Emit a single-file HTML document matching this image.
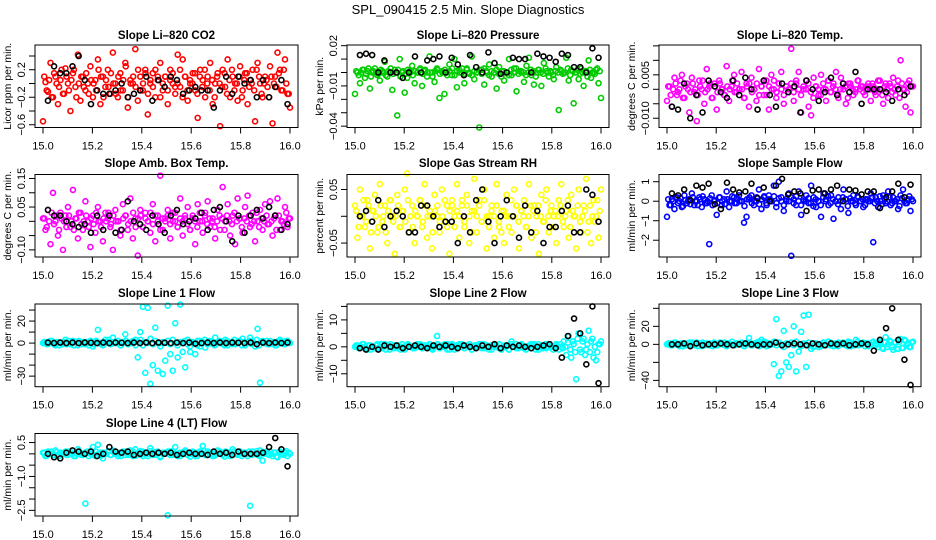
<!DOCTYPE html>
<html><head><meta charset="utf-8"><style>
html,body{margin:0;padding:0;background:#fff}
svg{display:block;font-family:"Liberation Sans",sans-serif}
</style></head><body>
<svg id="chart" width="936" height="540" viewBox="0 0 936 540">
<text x="468" y="14" text-anchor="middle" font-size="13">SPL_090415  2.5 Min. Slope Diagnostics</text>
</svg>
<script>
// ---- data ----
const co2Color = [-0.55,0.02,-0.12,0.30,-0.20,0.10,-0.30,0.05,-0.15,0.22, 0.00,-0.40,0.15,-0.05,0.42,-0.25,0.10,-0.10,0.00,0.25, -0.20,0.05,0.35,-0.30,0.10,-0.05,0.20,-0.15,0.45,0.00, -0.20,0.15,-0.10,0.30,-0.35,0.05,0.00,0.50,-0.25,0.10, -0.10,0.20,-0.45,0.00,0.15,-0.20,0.05,0.30,-0.10,0.10, -0.30,0.20,0.00,-0.15,0.42,-0.05,0.35,0.10,-0.25,0.00, 0.15,-0.10,-0.50,0.20,0.05,-0.20,0.10,0.30,-0.30,0.00, 0.15,-0.62,0.20,-0.05,0.35,-0.20,0.10,0.00,-0.25,0.25, -0.10,0.15,-0.30,0.05,0.20,-0.55,0.30,0.00,-0.20,0.10, -0.05,0.25,-0.58,0.10,0.45,0.20,-0.10,0.35,-0.15,-0.35];
const co2Band = [0.1,-0.1,0.05,-0.2,0.15,0.0,-0.05,0.2,-0.15,0.1, -0.1,0.05,0.2,-0.2,0.0,0.1,-0.05,0.15,-0.15,0.05, 0.0,-0.1,0.2,0.1,-0.2,0.05,-0.05,0.15,0.0,-0.15, 0.1,-0.1,0.05,0.25,-0.2,0.0,0.1,-0.05,0.2,-0.1, 0.0,0.15,-0.15,0.05,-0.05,0.2,0.1,-0.2,0.0,0.1, -0.1,0.05,0.15,-0.05,0.0,0.2,-0.2,0.1,-0.1,0.05, 0.0,0.15,-0.15,0.1,-0.05,0.2,0.0,-0.1,0.05,-0.2, 0.1,0.0,-0.05,0.15,-0.15,0.05,0.2,-0.1,0.0,0.1, -0.2,0.05,0.15,-0.05,0.0,-0.1,0.2,0.1,-0.15,0.0, 0.05,-0.2,0.1,0.0,-0.05,0.15,-0.1,0.2,0.0,-0.15];
const co2Black = [-0.25,0.25,0.15,0.15,0.25,0.4,0.05,-0.3,-0.1,-0.15,-0.15,-0.1,0.0,-0.2,-0.15,-0.1,0.1,-0.25,0.05,-0.05,0.1,0.05,-0.15,-0.1,-0.05,-0.1,-0.1,-0.35,-0.1,0.1,-0.15,0.1,0.0,0.05,-0.2,0.05,-0.2,-0.05,0.05,-0.3];
const presColor = [-0.016,0.000,-0.008,0.002,-0.004,0.001,-0.012,0.000,0.003,-0.002, -0.006,0.001,0.008,-0.003,0.000,-0.013,0.002,-0.032,0.010,0.000, -0.015,-0.004,0.001,0.005,-0.008,0.000,0.002,-0.010,0.001,-0.003, 0.012,0.000,-0.007,0.003,-0.019,0.001,-0.016,0.000,0.006,-0.002, 0.010,-0.011,0.002,0.000,-0.008,0.003,-0.001,0.012,-0.005,0.000, -0.041,0.002,-0.009,0.001,0.006,-0.003,0.000,-0.012,0.004,0.001, -0.006,0.000,0.010,-0.002,0.003,-0.014,0.001,0.000,-0.007,0.005, 0.011,-0.002,-0.009,0.000,0.002,-0.010,0.007,0.001,-0.003,0.000, -0.005,0.004,-0.028,0.001,0.000,0.011,-0.006,0.002,-0.023,0.000, -0.005,0.003,-0.010,0.001,0.009,-0.004,0.000,0.002,-0.008,-0.019];
const presBand = [0.001,-0.002,0.000,0.002,-0.001,0.003,-0.003,0.001,0.000,-0.001, 0.002,0.000,-0.002,0.001,0.003,-0.001,0.000,0.002,-0.003,0.001, -0.001,0.002,0.000,-0.002,0.001,0.000,0.003,-0.001,0.002,0.000, 0.000,-0.003,0.001,0.002,-0.001,0.000,0.002,-0.002,0.001,0.003, -0.002,0.001,0.000,0.003,-0.001,0.002,0.000,-0.002,0.001,0.000, 0.002,-0.001,0.003,0.000,-0.002,0.001,0.000,0.002,-0.001,-0.003, 0.001,0.000,-0.002,0.002,0.000,0.003,-0.001,0.001,0.000,-0.002, 0.000,0.002,0.001,-0.003,0.002,0.000,-0.001,0.003,0.000,0.001, -0.002,0.001,0.000,0.002,-0.001,0.000,0.003,-0.002,0.001,0.000, 0.002,-0.001,0.000,0.001,-0.003,0.002,0.000,-0.001,0.003,0.001];
const presBlack = [0.013,0.014,0.013,0.0,0.009,0.0,0.0,-0.004,0.0,0.012,0.0,0.009,0.01,0.012,0.0,0.011,0.006,-0.002,0.013,0.004,0.0,0.015,0.007,-0.001,0.0,0.011,0.01,0.01,0.0,0.014,0.012,0.011,0.008,0.014,0.013,0.004,0.004,0.0,0.018,0.011];
const tempColor = [-0.004,0.001,-0.006,0.004,-0.002,0.000,0.005,-0.003,0.002,-0.008, 0.004,-0.001,-0.011,0.003,0.000,-0.005,0.007,0.001,-0.003,0.002, -0.007,0.003,0.000,-0.002,0.008,-0.004,0.001,0.005,-0.001,0.000, 0.006,-0.003,0.002,-0.006,0.004,0.000,-0.004,0.007,0.001,-0.002, 0.003,-0.007,0.005,0.000,-0.003,0.002,0.006,-0.005,0.001,-0.001, 0.014,-0.004,0.002,0.006,-0.008,0.000,0.003,-0.006,-0.009,0.004, 0.001,-0.002,0.005,0.000,-0.004,0.003,-0.001,0.002,0.006,-0.003, 0.004,0.000,-0.005,0.002,0.001,-0.002,0.000,0.003,0.001,-0.001, 0.000,0.002,-0.004,0.001,-0.002,0.003,0.000,-0.005,0.002,-0.003, 0.001,0.004,-0.002,0.003,0.010,0.000,-0.006,0.002,-0.008,0.001];
const tempBand = [0.001,-0.002,0.000,0.002,-0.001,0.003,-0.003,0.001,0.000,-0.001, 0.002,0.000,-0.002,0.001,0.003,-0.001,0.000,0.002,-0.003,0.001, -0.001,0.002,0.000,-0.002,0.001,0.000,0.003,-0.001,0.002,0.000, 0.000,-0.003,0.001,0.002,-0.001,0.000,0.002,-0.002,0.001,0.003, -0.002,0.001,0.000,0.003,-0.001,0.002,0.000,-0.002,0.001,0.000, 0.002,-0.001,0.003,0.000,-0.002,0.001,0.000,0.002,-0.001,-0.003, 0.001,0.000,-0.002,0.002,0.000,0.003,-0.001,0.001,0.000,-0.002, 0.000,0.002,0.001,-0.003,0.002,0.000,-0.001,0.003,0.000,0.001, -0.002,0.001,0.000,0.002,-0.001,0.000,0.003,-0.002,0.001,0.000, 0.002,-0.001,0.000,0.001,-0.003,0.002,0.000,-0.001,0.003,0.001];
const tempBlack = [-0.006,-0.007,0.002,-0.010,-0.002,-0.008,0.003,0.001,-0.001,-0.003,0.003,-0.002,0.004,0.0,-0.007,0.003,-0.002,-0.006,0.002,-0.001,0.001,-0.008,0.003,0.0,-0.004,-0.001,0.004,-0.002,0.002,-0.001,0.006,-0.005,0.0,0.0,0.0,-0.001,-0.004,0.0,-0.002,0.001];
const ambColor = [0.01,-0.03,0.04,-0.08,0.10,0.00,-0.05,0.03,-0.10,0.02, 0.05,-0.02,0.11,0.01,-0.06,0.03,-0.03,0.07,0.00,-0.09, 0.02,-0.04,0.05,0.00,-0.07,0.03,0.01,-0.02,-0.10,0.04, 0.00,-0.05,0.06,0.02,-0.03,0.08,-0.06,0.01,-0.12,0.04, -0.02,0.03,0.00,-0.04,0.06,-0.07,0.02,0.16,-0.03,0.01, 0.04,-0.06,0.00,0.03,-0.02,0.08,-0.05,0.01,0.05,-0.03, 0.02,-0.08,0.06,0.00,-0.04,0.03,0.07,-0.02,0.01,-0.06, 0.04,-0.03,0.12,0.00,0.06,-0.05,0.02,-0.08,0.08,0.01, -0.04,0.05,0.09,-0.02,0.03,-0.07,0.00,0.04,-0.03,0.06, -0.01,0.07,-0.05,0.02,0.08,-0.03,0.00,0.05,-0.02,0.01];
const ambBand = [0.01,-0.02,0.00,0.03,-0.01,0.02,-0.03,0.01,0.00,-0.02, 0.02,0.00,-0.03,0.01,0.03,-0.01,0.00,0.02,-0.02,0.01, -0.01,0.03,0.00,-0.02,0.01,0.00,0.03,-0.01,0.02,0.00, 0.00,-0.03,0.01,0.02,-0.01,0.00,0.03,-0.02,0.01,0.02, -0.02,0.01,0.00,0.03,-0.01,0.02,0.00,-0.03,0.01,0.00, 0.02,-0.01,0.03,0.00,-0.02,0.01,0.00,0.02,-0.01,-0.03, 0.01,0.00,-0.02,0.03,0.00,0.02,-0.01,0.01,0.00,-0.02, 0.00,0.02,0.01,-0.03,0.02,0.00,-0.01,0.03,0.00,0.01, -0.02,0.01,0.00,0.02,-0.01,0.00,0.03,-0.02,0.01,0.00, 0.02,-0.01,0.00,0.01,-0.03,0.02,0.00,-0.01,0.03,0.01];
const ambBlack = [0.04,0.02,0.02,0.0,-0.01,-0.02,-0.01,-0.04,0.02,-0.03,0.02,-0.04,-0.03,0.07,0.0,-0.01,-0.03,0.02,-0.01,-0.04,0.02,0.04,-0.01,0.0,0.01,0.03,-0.03,0.04,0.05,0.0,-0.07,0.02,-0.04,0.02,0.04,0.01,0.05,0.02,-0.03,-0.01];
const rhColor = [0.02,-0.04,0.05,0.00,-0.02,0.03,-0.06,0.01,0.04,-0.03, 0.06,-0.01,0.02,-0.05,0.03,0.00,-0.07,0.04,-0.02,0.01, 0.05,0.08,-0.03,0.02,-0.05,0.00,0.03,-0.02,0.06,-0.04, 0.01,-0.06,0.04,0.00,-0.03,0.05,-0.01,0.02,-0.07,0.03, 0.00,0.06,-0.04,0.02,-0.02,0.04,-0.05,0.01,0.07,-0.03, 0.03,-0.01,0.05,-0.06,0.00,0.02,-0.04,0.06,-0.02,0.01, -0.05,0.04,0.00,-0.03,0.05,0.02,-0.06,0.01,0.03,-0.02, 0.06,-0.04,0.02,0.00,-0.07,0.04,-0.01,0.05,-0.03,0.02, 0.00,-0.05,0.03,0.06,-0.02,0.01,-0.04,0.04,0.00,-0.06, 0.05,-0.03,0.02,0.07,-0.01,-0.05,0.03,0.00,-0.04,0.05];
const rhBand = [0.01,-0.02,0.00,0.03,-0.01,0.02,-0.03,0.01,0.00,-0.02, 0.02,0.00,-0.03,0.01,0.03,-0.01,0.00,0.02,-0.02,0.01, -0.01,0.03,0.00,-0.02,0.01,0.00,0.03,-0.01,0.02,0.00, 0.00,-0.03,0.01,0.02,-0.01,0.00,0.03,-0.02,0.01,0.02, -0.02,0.01,0.00,0.03,-0.01,0.02,0.00,-0.03,0.01,0.00, 0.02,-0.01,0.03,0.00,-0.02,0.01,0.00,0.02,-0.01,-0.03, 0.01,0.00,-0.02,0.03,0.00,0.02,-0.01,0.01,0.00,-0.02, 0.00,0.02,0.01,-0.03,0.02,0.00,-0.01,0.03,0.00,0.01, -0.02,0.01,0.00,0.02,-0.01,0.00,0.03,-0.02,0.01,0.00, 0.02,-0.01,0.00,0.01,-0.03,0.02,0.00,-0.01,0.03,0.01];
const rhBlack = [0.0,0.01,-0.01,0.03,-0.02,0.0,0.01,0.0,-0.03,-0.03,0.02,0.02,0.0,-0.02,-0.01,-0.01,-0.05,0.0,-0.03,0.03,0.05,-0.01,-0.05,0.0,0.03,0.0,-0.04,0.02,-0.03,0.01,-0.05,-0.02,-0.02,0.01,0.02,-0.03,-0.03,0.05,0.04,-0.01];
const flowColor = [-0.8,-0.2,0.1,-0.4,0.2,0.0,-0.3,0.3,-0.1,0.1, 0.4,-0.2,0.0,0.2,-0.3,0.1,-0.1,-2.2,0.3,0.0, -0.7,0.2,-0.2,0.1,0.5,-0.3,0.0,0.2,-0.1,0.3, 0.0,-1.1,-0.8,0.1,0.3,-0.2,0.0,0.6,-0.4,0.2, -0.1,0.3,0.0,0.8,-0.3,1.0,0.2,-0.5,0.0,0.4, -2.8,0.1,-0.2,0.5,-0.7,0.0,0.3,-0.1,0.8,0.2, -0.3,0.0,-0.8,0.4,0.1,-0.2,0.3,-0.9,0.0,0.2, -0.4,0.6,0.1,-0.6,0.0,0.3,-0.2,0.2,0.0,-0.3, 0.1,0.0,0.4,-2.1,0.2,-0.3,0.0,0.3,-0.1,0.5, -0.2,0.2,0.0,-0.4,0.3,0.6,-0.1,0.1,-0.5,0.0];
const flowBand = [0.1,-0.2,0.0,0.2,-0.1,0.15,-0.25,0.05,0.0,-0.15, 0.2,0.0,-0.2,0.1,0.25,-0.1,0.0,0.15,-0.2,0.05, -0.1,0.2,0.0,-0.15,0.1,0.0,0.25,-0.1,0.15,0.0, 0.0,-0.25,0.1,0.2,-0.1,0.0,0.2,-0.15,0.1,0.25, -0.2,0.1,0.0,0.25,-0.1,0.15,0.0,-0.2,0.1,0.0, 0.2,-0.1,0.25,0.0,-0.2,0.1,0.0,0.15,-0.1,-0.25, 0.1,0.0,-0.2,0.2,0.0,0.25,-0.1,0.1,0.0,-0.15, 0.0,0.2,0.1,-0.25,0.15,0.0,-0.1,0.25,0.0,0.1, -0.2,0.1,0.0,0.2,-0.1,0.0,0.25,-0.15,0.1,0.0, 0.2,-0.1,0.0,0.1,-0.25,0.15,0.0,-0.1,0.25,0.1];
const flowBlack = [0.4,0.3,0.6,0.05,0.8,0.7,0.9,-0.15,-0.4,0.95,0.6,0.45,0.5,0.9,0.15,0.7,0.0,0.8,1.15,0.35,0.5,0.4,-0.5,0.55,0.6,0.4,0.6,0.8,0.0,0.6,0.55,0.35,0.5,0.5,-0.35,0.2,0.5,0.9,0.2,0.85];
const line1Color = [0,1,-1,2,0,-2,1,0,-1,3, 0,-1,2,1,-2,0,1,-1,0,2, -3,1,12,0,-2,3,1,-1,5,0, 2,-2,0,8,-1,1,0,3,-13,10, 33,-27,32,-37,-20,14,-25,0,-28,-16, 34,-10,-25,18,-13,35,-8,-22,3,-8, 0,-10,2,-3,1,-4,0,2,-1,5, 0,1,-1,3,-2,0,1,-1,0,2, 4,-2,0,5,1,-3,13,-36,2,0, -1,2,0,-2,1,3,0,-1,2,0];
const line1Band = [1,-1,0,2,-1,1,-2,0,1,-1, 2,0,-2,1,2,-1,0,1,-2,0, -1,2,0,-1,1,0,3,-1,1,0, 0,-2,1,2,-1,0,2,-2,1,3, -2,1,0,4,-1,2,0,-3,1,0, 2,-1,3,0,-2,1,0,2,-1,-3, 1,0,-2,2,0,3,-1,1,0,-2, 0,2,1,-2,2,0,-1,3,0,1, -2,1,0,2,-1,0,3,-2,1,0, 2,-1,0,1,-2,2,0,-1,2,1];
const line1Black = [0.5,0,0.5,0,0.5,0,0.5,0.3,0,0.5,0,0.5,0.3,0,0.5,0,0.5,0,0.5,0.3,0,0.5,0,0.5,-0.5,0,0.5,0,0.5,0,0.5,0.3,0,0.5,-1,0.5,0,0.5,0,0.5];
const line2Color = [0,0.5,-0.5,1,0,-1,0.5,0,-0.5,1, 0,-0.5,1,0.5,-1,0,0.5,-0.5,0,1, -1,0.5,0,0,-0.5,1,0.5,-0.5,0,0.5, 1,-0.5,0,4,-0.5,0.5,0,1,-1,0.5, 0,-0.5,1,0,-0.5,0.5,1,-1,0,0.5, 0,1,-0.5,0.5,0,-1,0.5,0,1,-0.5, 0,0.5,-1,2,0,-0.5,0.5,1,-0.5,0, 0.5,-0.5,1,0,-1,0.5,0,-0.5,1,0, 0,1,-1,0,2,-3,4,-4,1,-12, 5,-2,3,-1,6,2,-4,-5,1,2];
const line2Band = [0.5,-0.5,0,1,-0.5,0.5,-1,0,0.5,-0.5, 1,0,-1,0.5,1,-0.5,0,0.5,-1,0, -0.5,1,0,-0.5,0.5,0,1,-0.5,0.5,0, 0,-1,0.5,1,-0.5,0,1,-1,0.5,1, -1,0.5,0,1,-0.5,0.5,0,-1,0.5,0, 1,-0.5,1,0,-1,0.5,0,0.5,-0.5,-1, 0.5,0,-1,1,0,1,-0.5,0.5,0,-1, 0,1,0.5,-1,1,0,-0.5,1,0,0.5, -1,0.5,0,1,-0.5,0,1.5,-1,2,-2, 3,-1,2,-3,1,-2,3,0,-2,1];
const line2Black = [-0.5,-1,0,-1,0.5,0,0.5,-0.5,0,0.5,0,-0.5,0.5,0,0.5,0,-0.5,0.5,0,-0.5,0.5,0,1,-0.5,0.5,0,0.5,0,-0.5,0,0.5,1,-0.5,-4,4,10.5,5,-6.5,15,-13.5];
const line3Color = [0,1,-1,2,0,-2,1,0,-1,2, 0,-1,2,1,-2,0,1,-1,0,2, -1,1,0,2,-2,1,0,-1,1,0, 2,-2,0,7,-1,1,0,3,5,-1, 2,-1,0,-22,28,-35,-30,15,-20,-25, -12,20,-30,-8,14,32,-25,33,-5,-2, 1,-3,0,2,-1,3,0,-2,1,2, 0,1,-1,3,-2,0,5,-1,0,2, 1,-2,0,3,1,-3,2,-5,8,0, 3,-6,2,-5,6,-4,4,1,-3,3];
const line3Band = [1,-1,0,2,-1,1,-2,0,1,-1, 2,0,-2,1,2,-1,0,1,-2,0, -1,2,0,-1,1,0,3,-1,1,0, 0,-2,1,2,-1,0,2,-2,1,3, -2,1,0,3,-1,2,0,-3,1,0, 2,-1,3,0,-2,1,0,2,-1,-3, 1,0,-2,2,0,3,-1,1,0,-2, 0,2,1,-2,2,0,-1,3,0,1, -2,1,0,2,-1,0,3,-4,2,-3, 4,-3,2,-5,3,-4,5,0,-3,2];
const line3Black = [0,0,1,-2,1,-1,0,0,1,0,-1,0,1,0,-1,0,0,2,-1,0,1,0,-1,1,0,-1,1,0,1,-1,0,1,0,-7,5,18,40,5,-17,-45];
const line4Color = [0.05,-0.1,0.1,0.0,-0.05,0.15,-0.1,0.05,0.0,0.1, -0.05,0.1,0.0,-0.1,0.2,0.05,-0.05,-2.2,0.1,0.0, 0.3,-0.1,0.4,0.05,-0.2,0.0,0.1,-0.05,0.15,0.0, -0.1,0.05,0.1,-0.05,0.0,0.15,-0.1,0.2,0.0,-0.05, 0.1,0.0,-0.1,0.25,0.05,-0.05,0.1,-0.15,0.0,0.05, -2.72,0.1,-0.05,0.3,0.0,-0.1,0.05,0.15,-0.05,0.0, 0.1,-0.1,0.05,0.0,0.35,-0.05,0.1,0.0,-0.1,0.05, 0.15,0.0,-0.05,0.1,0.05,-0.1,0.2,0.0,-0.05,0.1, 0.0,0.05,-0.1,-2.3,0.1,0.0,-0.05,0.15,-0.3,0.05, 0.0,0.1,-0.1,0.05,-0.15,0.1,0.0,0.05,-0.1,0.0];
const line4Band = [0.05,-0.08,0.0,0.1,-0.05,0.08,-0.1,0.0,0.05,-0.05, 0.1,0.0,-0.1,0.05,0.1,-0.05,0.0,0.08,-0.1,0.0, -0.05,0.1,0.0,-0.08,0.05,0.0,0.12,-0.05,0.08,0.0, 0.0,-0.1,0.05,0.1,-0.05,0.0,0.1,-0.08,0.05,0.12, -0.1,0.05,0.0,0.12,-0.05,0.08,0.0,-0.1,0.05,0.0, 0.1,-0.05,0.12,0.0,-0.1,0.05,0.0,0.08,-0.05,-0.12, 0.05,0.0,-0.1,0.1,0.0,0.12,-0.05,0.05,0.0,-0.08, 0.0,0.1,0.05,-0.12,0.08,0.0,-0.05,0.12,0.0,0.05, -0.1,0.05,0.0,0.1,-0.05,0.0,0.12,-0.08,0.05,0.0, 0.1,-0.05,0.0,0.05,-0.12,0.08,0.0,-0.05,0.12,0.05];
const line4Black = [0.0,-0.15,-0.2,0.05,0.15,0.1,0.0,0.1,-0.1,0.0,0.3,0.1,0.05,0.1,-0.05,0.0,0.05,0.0,0.05,0.0,0.05,-0.05,0.0,0.05,0.0,0.0,-0.05,0.1,0.0,0.05,-0.05,0.1,0.0,0.0,0.0,0.05,0.3,0.7,0.2,-0.55];
const xTickValues = [15.0,15.2,15.4,15.6,15.8,16.0];
const xTickLabels = ["15.0","15.2","15.4","15.6","15.8","16.0"];

// ---- layout ----
const colX = [[35,298],[347,609],[659,921]];
const rowY = [[45,127.5],[174.5,257],[304,386.7],[433.5,516]];
const titleY = [39,167,297,427];
const panels = [
 {name:"co2",title:"Slope Li\u2013820 CO2",ylab:"Licor ppm per min.",col:"#ff0000",r:0,c:0,ylim:[-0.64,0.56],ticks:[-0.6,-0.4,-0.2,0,0.2,0.4],labs:{"-0.6":"\u22120.6","-0.2":"\u22120.2","0.2":"0.2"},color:co2Color,band:co2Band,black:co2Black},
 {name:"pressure",title:"Slope Li\u2013820 Pressure",ylab:"kPa per min.",col:"#00cc00",r:0,c:1,ylim:[-0.041,0.0205],ticks:[-0.04,-0.03,-0.02,-0.01,0,0.01,0.02],labs:{"0.02":"0.02","-0.01":"\u22120.01","-0.04":"\u22120.04"},color:presColor,band:presBand,black:presBlack},
 {name:"li820-temp",title:"Slope Li\u2013820 Temp.",ylab:"degrees C per min.",col:"#ff00ff",r:0,c:2,ylim:[-0.0132,0.0153],ticks:[-0.01,-0.005,0,0.005,0.01,0.015],labs:{"0.005":"0.005","-0.01":"\u22120.010"},color:tempColor,band:tempBand,black:tempBlack},
 {name:"amb-box-temp",title:"Slope Amb. Box Temp.",ylab:"degrees C per min.",col:"#ff00ff",r:1,c:0,ylim:[-0.125,0.164],ticks:[-0.1,-0.05,0,0.05,0.1,0.15],labs:{"0.15":"0.15","0.05":"0.05","-0.1":"\u22120.10"},color:ambColor,band:ambBand,black:ambBlack},
 {name:"gas-rh",title:"Slope Gas Stream RH",ylab:"percent per min.",col:"#ffff00",r:1,c:1,ylim:[-0.076,0.078],ticks:[-0.05,0,0.05],labs:{"0.05":"0.05","-0.05":"\u22120.05"},color:rhColor,band:rhBand,black:rhBlack},
 {name:"sample-flow",title:"Slope Sample Flow",ylab:"ml/min per min.",col:"#0000ff",r:1,c:2,ylim:[-2.86,1.37],ticks:[-2,-1,0,1],labs:{"1":"1","0":"0","-1":"\u22121","-2":"\u22122"},color:flowColor,band:flowBand,black:flowBlack},
 {name:"line1-flow",title:"Slope Line 1 Flow",ylab:"ml/min per min.",col:"#00ffff",r:2,c:0,ylim:[-39.6,35.5],ticks:[-30,-20,-10,0,10,20,30],labs:{"20":"20","0":"0","-30":"\u221230"},color:line1Color,band:line1Band,black:line1Black},
 {name:"line2-flow",title:"Slope Line 2 Flow",ylab:"ml/min per min.",col:"#00ffff",r:2,c:1,ylim:[-14.8,15.9],ticks:[-10,-5,0,5,10,15],labs:{"10":"10","0":"0","-10":"\u221210"},color:line2Color,band:line2Band,black:line2Black},
 {name:"line3-flow",title:"Slope Line 3 Flow",ylab:"ml/min per min.",col:"#00ffff",r:2,c:2,ylim:[-47,44.8],ticks:[-40,-20,0,20,40],labs:{"20":"20","0":"0","-40":"\u221240"},color:line3Color,band:line3Band,black:line3Black},
 {name:"line4-flow",title:"Slope Line 4 (LT) Flow",ylab:"ml/min per min.",col:"#00ffff",r:3,c:0,ylim:[-2.75,0.9],ticks:[-2.5,-2,-1.5,-1,-0.5,0,0.5],labs:{"0.5":"0.5","-1":"\u22121.0","-2.5":"\u22122.5"},color:line4Color,band:line4Band,black:line4Black}
];

const NS="http://www.w3.org/2000/svg";
const svg=document.getElementById('chart');
function mk(tag,attrs,parent){const e=document.createElementNS(NS,tag);for(const k in attrs)e.setAttribute(k,attrs[k]);parent.appendChild(e);return e;}

panels.forEach(p=>{
  const x0=colX[p.c][0],x1=colX[p.c][1],y0=rowY[p.r][0],y1=rowY[p.r][1];
  const g=mk('g',{},svg);
  
  
  const xs=v=>(x0+8)+(v-15)*((x1-8)-(x0+8));
  const ys=v=>y1-(v-p.ylim[0])/(p.ylim[1]-p.ylim[0])*(y1-y0);
  const t=mk('text',{x:(x0+x1)/2,y:titleY[p.r],'text-anchor':'middle','font-size':'11.5','font-weight':'bold'},g);
  t.textContent=p.title;
  
  
  const pts=mk('g',{fill:'none','stroke-width':'1.6'},g);
  
  
  const nb=p.band.length;
  p.band.forEach((v,i)=>{
    const c=mk('circle',{cx:xs(15+(i+0.5)/nb),cy:ys(v),r:2.5,stroke:p.col},pts);
    
    
  });
  const n=p.color.length;
  p.color.forEach((v,i)=>{
    const c=mk('circle',{cx:xs(15+i/(n-1)),cy:ys(v),r:2.5,stroke:p.col},pts);
    
    
  });
  const m=p.black.length;
  p.black.forEach((v,i)=>{
    const c=mk('circle',{cx:xs(15.02+i*0.97/(m-1)),cy:ys(v),r:2.5,stroke:'#000'},pts);
    
    
  });
  const box=mk('rect',{x:x0,y:y0,width:x1-x0,height:y1-y0,fill:'none',stroke:'#000','stroke-width':1},g);
  
  
  const xa=mk('g',{},g);
  
  
  xTickValues.forEach((v,i)=>{
    const X=xs(v);
    mk('line',{x1:X,x2:X,y1:y1,y2:y1+6,stroke:'#000'},xa);
    const tl=mk('text',{x:X,y:y1+22,'text-anchor':'middle','font-size':'11'},xa);
    tl.textContent=xTickLabels[i];
    
    
  });
  const ya=mk('g',{},g);
  
  
  p.ticks.forEach(v=>{
    const Y=ys(v);
    mk('line',{x1:x0-6,x2:x0,y1:Y,y2:Y,stroke:'#000'},ya);
    const key=String(v);
    if(p.labs[key]!==undefined){
      const tl=mk('text',{x:0,y:0,'text-anchor':'middle','font-size':'11',transform:`translate(${x0-10},${Y}) rotate(-90)`},ya);
      tl.textContent=p.labs[key];
      
      
    }
  });
  const yt=mk('text',{x:0,y:0,'text-anchor':'middle','font-size':'10.5',transform:`translate(${x0-24},${(y0+y1)/2}) rotate(-90)`},g);
  yt.textContent=p.ylab;
  
  
});
</script>
</body></html>
